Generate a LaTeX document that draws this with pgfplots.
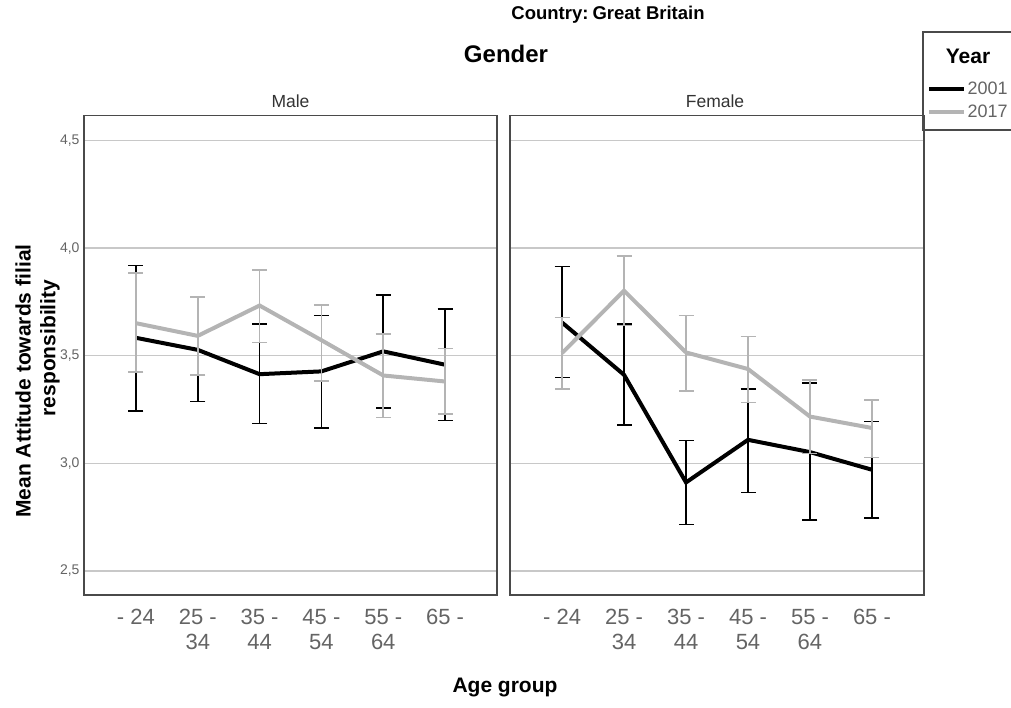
\documentclass[border=0pt]{standalone}
\usepackage{fontspec}
\setmainfont{Liberation Sans}
\usepackage{pgfplots}
\pgfplotsset{compat=1.18}
\usepackage{pgfplotstable}
\definecolor{gline}{HTML}{B4B4B4}
\definecolor{gridc}{HTML}{C8C8C8}
\definecolor{axisc}{HTML}{4A4A4A}
\definecolor{tickc}{HTML}{646464}

% columns: age group index, mean, lower CI, upper CI
\pgfplotstableread{
x y lo hi
0 3.583 3.244 3.919
1 3.527 3.287 3.770
2 3.414 3.184 3.647
3 3.427 3.164 3.687
4 3.520 3.256 3.783
5 3.458 3.198 3.717
}\maleA
\pgfplotstableread{
x y lo hi
0 3.651 3.424 3.884
1 3.592 3.411 3.773
2 3.733 3.561 3.899
3 3.572 3.383 3.735
4 3.408 3.213 3.600
5 3.380 3.229 3.533
}\maleB
\pgfplotstableread{
x y lo hi
0 3.654 3.399 3.915
1 3.411 3.179 3.647
2 2.911 2.716 3.105
3 3.109 2.864 3.346
4 3.052 2.737 3.373
5 2.970 2.745 3.194
}\femA
\pgfplotstableread{
x y lo hi
0 3.512 3.346 3.678
1 3.802 3.640 3.964
2 3.515 3.337 3.687
3 3.438 3.283 3.589
4 3.217 3.045 3.388
5 3.164 3.027 3.295
}\femB

\pgfplotsset{
  panel/.style={
    scale only axis, height=479.5pt,
    xmin=-0.84, xmax=5.84, ymin=2.388, ymax=4.616,
    axis line style={color=axisc, line width=1.5pt},
    ytick={2.5,3,3.5,4,4.5},
    ymajorgrids, grid style={color=gridc, line width=1.4pt},
    major tick length=0pt,
    xtick={0,1,2,3,4,5},
    xticklabels={{- 24},{25 -\\34},{35 -\\44},{45 -\\54},{55 -\\64},{65 -}},
    xticklabel style={align=center, font=\fontsize{22}{24.5}\selectfont, text=tickc, yshift=-11pt},
    yticklabel style={font=\fontsize{14}{16}\selectfont, text=tickc, xshift=-1pt},
    /pgf/number format/assume math mode=true,
  },
  ser/.style={color=#1, line width=4pt, no marks,
    error bars/.cd, y dir=both, y explicit,
    error mark=|,
    error bar style={line width=1.5pt},
    error mark options={line width=1.5pt, mark size=7.5pt}},
}

\begin{document}
\begin{tikzpicture}
\path[use as bounding box] (0pt,0pt) rectangle (1011pt,708pt);

\begin{axis}[panel, at={(84pt,113pt)}, anchor=south west, width=413pt,
  yticklabels={{2,5},{3,0},{3,5},{4,0},{4,5}}]
\addplot[ser=black] table[x=x, y=y, y error plus expr=\thisrow{hi}-\thisrow{y}, y error minus expr=\thisrow{y}-\thisrow{lo}] {\maleA};
\addplot[ser=gline] table[x=x, y=y, y error plus expr=\thisrow{hi}-\thisrow{y}, y error minus expr=\thisrow{y}-\thisrow{lo}] {\maleB};
\end{axis}

\begin{axis}[panel, at={(510pt,113pt)}, anchor=south west, width=414pt,
  yticklabels={},
  legend style={at={(1.007,1.074)}, anchor=north west, draw=none, fill=none,
    font=\fontsize{18}{20}\selectfont, text=tickc, inner sep=0pt, row sep=6.5pt,
    nodes={inner sep=1.5pt}},
  legend cell align=left,
  legend image code/.code={\draw[#1, line width=4pt] (0pt,0pt) -- (35pt,0pt);}]
\addplot[ser=black] table[x=x, y=y, y error plus expr=\thisrow{hi}-\thisrow{y}, y error minus expr=\thisrow{y}-\thisrow{lo}] {\femA};
\addlegendentry{2001}
\addplot[ser=gline] table[x=x, y=y, y error plus expr=\thisrow{hi}-\thisrow{y}, y error minus expr=\thisrow{y}-\thisrow{lo}] {\femB};
\addlegendentry{2017}
\end{axis}

% legend frame and title
\draw[axisc, line width=1.5pt] (923pt,578pt) rectangle (1014pt,676pt);
\node[font=\fontsize{21}{24}\selectfont\bfseries] at (968pt,652pt) {Year};

% titles
\node[font=\fontsize{18.5}{20}\selectfont\bfseries] at (608pt,693pt) {Country:\hspace{-0.15em} Great Britain};
\node[font=\fontsize{24}{26}\selectfont\bfseries, anchor=base] at (506pt,645pt) {Gender};
\node[font=\fontsize{17.5}{19}\selectfont, text=black!80] at (290.5pt,607pt) {Male};
\node[font=\fontsize{17.5}{19}\selectfont, text=black!80] at (715pt,607pt) {Female};
\node[font=\fontsize{21}{24}\selectfont\bfseries] at (505pt,20pt) {Age group};
\node[font=\fontsize{21}{24}\selectfont\bfseries, rotate=90] at (23pt,327pt) {Mean Attitude towards filial};
\node[font=\fontsize{21}{24}\selectfont\bfseries, rotate=90] at (50pt,360pt) {responsibility};
\end{tikzpicture}
\end{document}
